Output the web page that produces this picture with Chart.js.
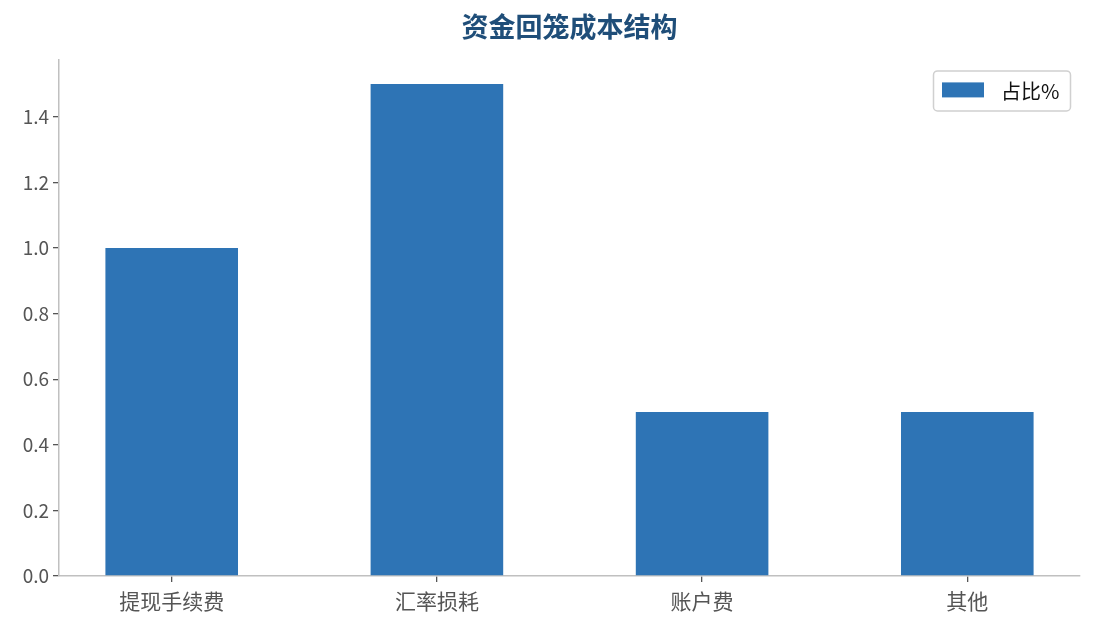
<!DOCTYPE html>
<html>
<head>
<meta charset="utf-8">
<script src="https://cdn.jsdelivr.net/npm/chart.js@4.4.1/dist/chart.umd.min.js"></script>
<style>
  html, body { margin: 0; padding: 0; background: #fff; }
  #wrap { width: 1095px; height: 629px; }
</style>
</head>
<body>
<div id="wrap"><canvas id="grafico" width="1095" height="629"></canvas></div>
<script>
// dados do gráfico
const categorias = ['提现手续费', '汇率损耗', '账户费', '其他'];
const valores = [1.0, 1.5, 0.5, 0.5];
const ticksY = [0, 0.2, 0.4, 0.6, 0.8, 1.0, 1.2, 1.4];
const serieNome = '占比%';

const corBarra = '#2e74b5';
const fonte = '"Noto Sans CJK SC", "Noto Sans", sans-serif';

// título centrado sobre a área do gráfico (não sobre o canvas)
const tituloCentrado = {
  id: 'tituloCentrado',
  afterLayout(chart) {
    if (chart.titleBlock) {
      chart.titleBlock.left = chart.chartArea.left;
      chart.titleBlock.right = chart.chartArea.right;
    }
  }
};

// legenda dentro da área do gráfico, canto superior direito
const legendaInterna = {
  id: 'legendaInterna',
  afterDraw(chart) {
    const c = chart.ctx;
    const area = chart.chartArea;
    const w = 137, h = 40;
    const x = area.right - 10 - w, y = area.top + 11;
    c.save();
    c.beginPath();
    c.roundRect(x + 0.5, y + 0.5, w, h, 4);
    c.fillStyle = 'rgba(255,255,255,0.8)';
    c.fill();
    c.strokeStyle = '#d0d0d0';
    c.lineWidth = 1.5;
    c.stroke();
    c.fillStyle = corBarra;
    c.fillRect(x + 9, y + 12, 42, 15);
    c.fillStyle = '#111';
    c.font = '20px ' + fonte;
    c.textBaseline = 'middle';
    c.fillText(serieNome, x + 68, y + h / 2 + 1);
    c.restore();
  }
};

const ctx = document.getElementById('grafico').getContext('2d');
new Chart(ctx, {
  type: 'bar',
  data: {
    datasets: [{
      label: serieNome,
      data: valores.map((v, i) => ({ x: i, y: v })),
      backgroundColor: corBarra,
      barPercentage: 0.5,
      categoryPercentage: 1.0
    }]
  },
  options: {
    responsive: false,
    animation: false,
    layout: { padding: { right: 15, left: 0, bottom: 0, top: 0 } },
    plugins: {
      legend: { display: false },
      tooltip: { enabled: false },
      title: {
        display: true,
        text: '资金回笼成本结构',
        color: '#1f4e79',
        font: { family: fonte, size: 27, weight: 'bold' },
        padding: { top: 11, bottom: 16 }
      }
    },
    scales: {
      x: {
        type: 'linear',
        min: -0.425,
        max: 3.425,
        offset: false,
        afterFit(s) { s.height = 53; },
        afterBuildTicks(s) { s.ticks = categorias.map((_, i) => ({ value: i })); },
        ticks: {
          callback: v => categorias[v],
          color: '#555',
          font: { family: fonte, size: 21 },
          padding: 6,
          autoSkip: false,
          maxRotation: 0
        },
        grid: { offset: false, drawOnChartArea: false, drawTicks: true, tickLength: 6, tickColor: '#555', lineWidth: 1.3 },
        border: { color: '#c0c0c0', width: 1.5 }
      },
      y: {
        min: 0,
        max: 1.575,
        afterFit(s) { s.width = 59; },
        afterBuildTicks(s) { s.ticks = ticksY.map(v => ({ value: v })); },
        ticks: {
          callback: v => v.toFixed(1),
          color: '#555',
          font: { family: fonte, size: 19 },
          padding: 4
        },
        grid: { drawOnChartArea: false, drawTicks: true, tickLength: 6, tickColor: '#555', lineWidth: 1.3 },
        border: { color: '#c0c0c0', width: 1.5 }
      }
    }
  },
  plugins: [tituloCentrado, legendaInterna]
});
</script>
</body>
</html>
